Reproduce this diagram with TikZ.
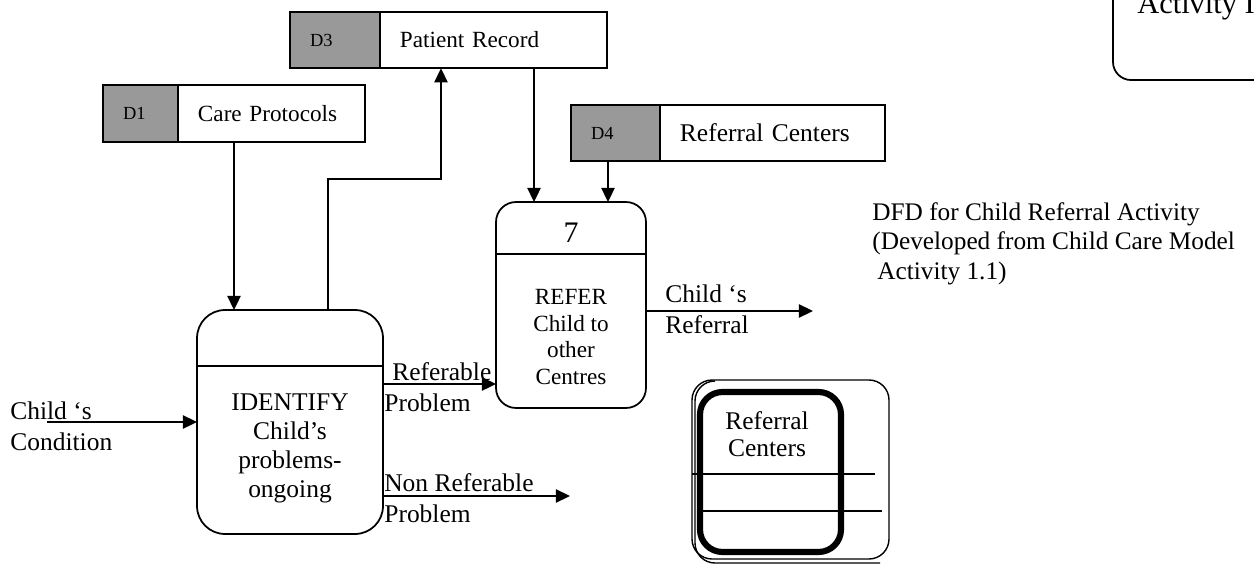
\documentclass[tikz,border=0pt]{standalone}
\usepackage{fontspec}
\setmainfont{Liberation Serif}
\usetikzlibrary{positioning, arrows.meta}

\begin{document}
\begin{tikzpicture}[
        x=0.02cm, y=-0.02cm,
        font=\fontsize{14.5}{17.5}\selectfont,
        store/.style={rectangle, draw, line width=1pt, minimum height=1.13cm, inner xsep=0.4cm, inner ysep=0pt, outer sep=0pt, align=left, font=\fontsize{13.2}{15}\selectfont},
        storeid/.style={store, fill=black!40, font=\fontsize{10.5}{12}\selectfont},
        process/.style={rectangle, draw, line width=1pt, outer sep=0pt},
        flow/.style={line width=1pt, -{Triangle[length=8pt, width=7.5pt]}},
        lbl/.style={inner sep=0pt, align=left}
    ]
    \useasboundingbox (0,0) rectangle (1254,568);
    \clip (0,0) rectangle (1254,568);

    % data stores
    \node[storeid, text width=0.7cm] (d1id) at (140.5,113.5) {D1};
    \node[store, right=0pt of d1id, text width=2.94cm] (d1) {Care Protocols};
    \node[storeid, text width=1.0cm] (d3id) at (335,40) {D3};
    \node[store, right=0pt of d3id, text width=3.74cm] (d3) {Patient Record};
    \node[storeid, text width=0.98cm] (d4id) at (615.5,133) {D4};
    \node[store, right=0pt of d4id, text width=3.7cm, font=\fontsize{14.5}{17}\selectfont] (d4) {Referral Centers};

    % processes
    \node[process, minimum width=3.72cm, minimum height=4.48cm, rounded corners=0.56cm] (idfy) at (290,422) {};
    \draw[line width=1pt] ([yshift=1.12cm]idfy.west) -- ([yshift=1.12cm]idfy.east);
    \node[align=center, font=\fontsize{14.5}{16.5}\selectfont] (idfytxt) at (290,448) {IDENTIFY\\Child’s\\problems-\\ongoing};

    \node[process, minimum width=3cm, minimum height=4.12cm, rounded corners=0.4cm] (refer) at (571,305) {};
    \draw[line width=1pt] ([yshift=1.02cm]refer.west) -- ([yshift=1.02cm]refer.east);
    \node[font=\fontsize{17}{20}\selectfont] (referno) at (571,233) {7};
    \node[align=center, font=\fontsize{13.2}{15.2}\selectfont] (refertxt) at (571,337) {REFER\\Child to\\other\\Centres};

    % ports and free ends
    \coordinate (in1) at ([xshift=-1.12cm]idfy.north);
    \coordinate (in2) at ([xshift=0.76cm]idfy.north);
    \coordinate (in3) at ([xshift=-0.74cm]refer.north);
    \coordinate (in4) at ([xshift=0.74cm]refer.north);
    \coordinate (jog) at (441,179);
    \coordinate (cond) at (47,422);
    \coordinate (nonref) at (570,496);
    \coordinate (referral) at (813,311);

    % flows
    \draw[flow] (d1.south -| in1) -- (in1);
    \draw[flow] (in2) |- (jog) -- (d3.south -| jog);
    \draw[flow] (d3.south -| in3) -- (in3);
    \draw[flow] (d4id.south -| in4) -- (in4);
    \draw[flow] (cond) -- (idfy.west);
    \draw[flow] ([yshift=0.76cm]idfy.east) coordinate (r1) -- (r1 -| refer.west);
    \draw[flow] (nonref -| idfy.east) -- (nonref);
    \draw[flow] (referral -| refer.east) -- (referral);

    % flow labels
    \node[lbl, anchor=west] (condlbl) at (10,426) {Child ‘s\\Condition};
    \node[lbl, anchor=west] (reflbl) at (384,387) {\hspace{0.16cm}Referable\\Problem};
    \node[lbl, anchor=west] (nonreflbl) at (384,498) {Non Referable\\Problem};
    \node[lbl, anchor=west] (outlbl) at (665,309) {Child ‘s\\Referral};

    \node[lbl, anchor=north west, font=\fontsize{14.4}{16.8}\selectfont] (title) at (872,202) {DFD for Child Referral Activity\\(Developed from Child Care Model\\\hspace{0.1cm}Activity 1.1)};

    % symbol for an external entity
    \draw[line width=0.8pt, rounded corners=0.4cm] (692,380) rectangle (889,559);
    \draw[line width=0.8pt, rounded corners=0.4cm] (712,381) -| (695,563) -- (880,563);
    \draw[line width=3.5pt, rounded corners=0.45cm] (700,392) rectangle (841,552);
    \draw[line width=0.8pt] (692,474) -- (875,474);
    \draw[line width=0.8pt] (702,511) -- (882,511);
    \node[align=center, font=\fontsize{14.5}{15.5}\selectfont] (symtxt) at (767,434) {Referral\\Centers};

    % legend box
    \draw[line width=1pt, rounded corners=0.36cm] (1113,-40) rectangle (1300,80);
    \node[anchor=base west, inner sep=0pt, font=\fontsize{17.3}{20}\selectfont] (legendtitle) at (1137,13) {Activity I};
\end{tikzpicture}
\end{document}
